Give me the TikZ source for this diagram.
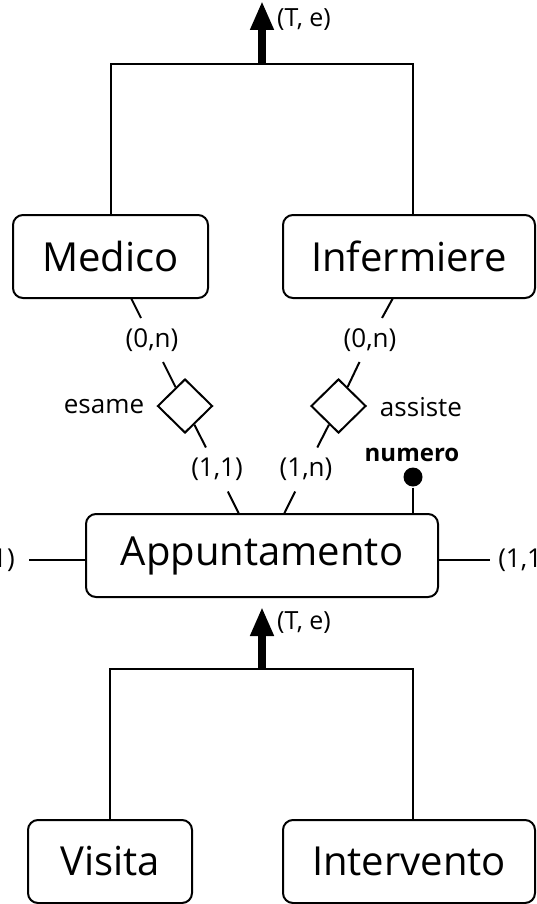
\documentclass[tikz,border=0pt]{standalone}
\usepackage{fontspec}
\setmainfont{Open Sans}
\usetikzlibrary{shapes.geometric,arrows.meta}
\begin{document}
\begin{tikzpicture}[x=1pt,y=-1pt,
  line width=2pt,
  entity/.style={draw, rounded corners=10pt, minimum height=83pt, inner sep=0pt, font=\fontsize{40}{48}\selectfont},
  rel/.style={draw, fill=white, shape=diamond, minimum width=55pt, minimum height=54pt, inner sep=0pt},
  card/.style={inner sep=0pt, minimum width=56pt, minimum height=42pt, font=\fontsize{26}{30}\selectfont},
  lbl/.style={inner sep=0pt, font=\fontsize{26}{30}\selectfont},
  isa/.style={line width=8pt, -{Triangle[width=22pt,length=29pt]}}
]
\useasboundingbox (0,0) rectangle (537,904);
\clip (0,0) rectangle (537,904);

% entities
\node[entity, minimum width=195pt] (med) at (110.5,256.5) {Medico};
\node[entity, minimum width=252pt] (inf) at (409,256.5) {Infermiere};
\node[entity, minimum width=352pt] (app) at (262,555.5) {Appuntamento};
\node[entity, minimum width=164pt] (vis) at (110,861.5) {Visita};
\node[entity, minimum width=252pt] (int) at (409,861.5) {Intervento};

% generalization top
\coordinate (bar1) at (262,64);
\coordinate (tip1) at (262,1);
\coordinate (infc) at (413,215);
\draw (med.north) |- (bar1) -| (infc);
\draw[isa] (bar1) -- (tip1);
\node[lbl, font=\fontsize{25}{30}\selectfont] (te1) at (304,20) {(T, e)};

% generalization bottom
\coordinate (bar2) at (262,669);
\coordinate (tip2) at (262,607);
\coordinate (intc) at (413,820);
\draw (vis.north) |- (bar2) -| (intc);
\draw[isa] (bar2) -- (tip2);
\node[lbl, font=\fontsize{25}{30}\selectfont] (te2) at (304,623) {(T, e)};

% relationship esame
\coordinate (m1) at (131,298);
\coordinate (a1) at (239,514);
\node[card] (c1) at (152,340) {(0,n)};
\node[card] (c2) at (217,469.5) {(1,1)};
\node[rel] (esame) at (185,406) {};
\draw (m1) -- (c1);
\draw (c1) -- (esame);
\draw (esame) -- (c2);
\draw (c2) -- (a1);
\node[lbl] (esl) at (104,407) {esame};

% relationship assiste
\coordinate (i1) at (393,298);
\coordinate (a2) at (284,514);
\node[card] (c3) at (370,340) {(0,n)};
\node[card] (c4) at (306,469.5) {(1,n)};
\node[rel] (assiste) at (338.5,406) {};
\draw (i1) -- (c3);
\draw (c3) -- (assiste);
\draw (assiste) -- (c4);
\draw (c4) -- (a2);
\node[lbl] (asl) at (421,407) {assiste};

% identifier
\node[circle, fill, inner sep=0pt, minimum size=19pt] (dot) at (413,477) {};
\draw (dot) -- (dot |- app.north);
\node[lbl, font=\bfseries\fontsize{24}{28}\selectfont] (num) at (412,455) {numero};

% side cardinalities
\coordinate (le) at (29,560);
\coordinate (re) at (490,560);
\draw (app.west |- le) -- (le);
\draw (app.east |- re) -- (re);
\node[lbl] (lc) at (-11,560) {(1,1)};
\node[lbl] (rc) at (524,560) {(1,1)};
\end{tikzpicture}
\end{document}
